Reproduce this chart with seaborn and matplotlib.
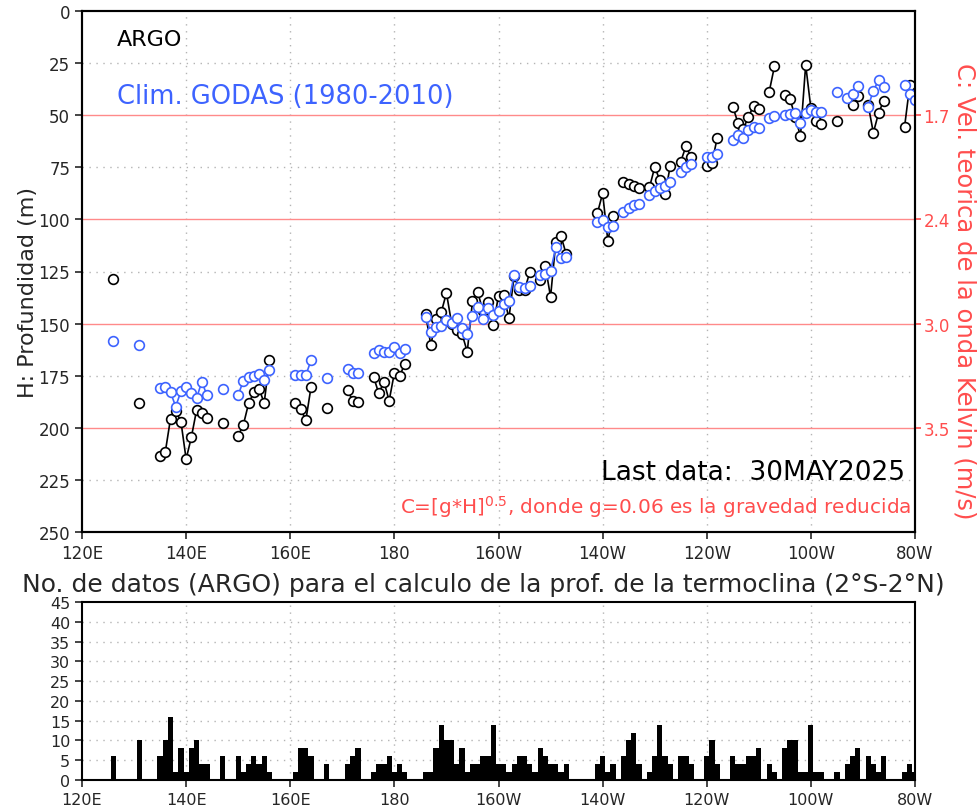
import numpy as np
import pandas as pd
import matplotlib
matplotlib.use("Agg")
import matplotlib.pyplot as plt
import seaborn as sns

# ----------------------------------------------------
# Data
# ----------------------------------------------------
nan = np.nan

# longitudes (deg east) with thermocline depth estimates
lons = [126, 131, 135, 136, 137, 138, 139, 140, 141, 142, 143, 144, 147,
        150, 151, 152, 153, 154, 155, 156, 161, 162, 163, 164, 167, 171,
        172, 173, 176, 177, 178, 179, 180, 181, 182, 186, 187, 188, 189,
        190, 191, 192, 193, 194, 195, 196, 197, 198, 199, 200, 201, 202,
        203, 204, 205, 206, 208, 209, 210, 211, 212, 213, 219, 220, 221,
        222, 224, 225, 226, 227, 229, 230, 231, 232, 233, 235, 236, 237,
        240, 241, 242, 245, 246, 247, 248, 249, 250, 252, 253, 255, 256,
        257, 258, 259, 260, 261, 262, 265, 267, 268, 269, 271, 272, 273,
        274, 278, 279, 280]

argo_depth = [128.6, 188.3, 213.4, 211.6, 195.6, 192, 197, 215, 204.6, 191.6,
              193, 195.5, 197.9, 203.8, 198.5, 188.3, 183, 181.4, 188, 167.5,
              188, 191.1, 196.3, 180.3, 190.7, 182, 187, 187.5, 175.5, 183.5,
              177.9, 187, 173.6, 175.1, 169.5, 145.5, 160.4, 148, 144.6, 135.3,
              150, 153, 155, 163.5, 139.3, 134.7, 144, 139.5, 150.8, 136.6,
              136.3, 147.5, 127, 134, 134, 125.4, 129, 122.5, 137.2, 111,
              108, 116.6, 97, 87.5, 110.2, 98.2, 81.9, 83, 83.8, 85.1,
              84.6, 75, 81.1, 87.8, 74.2, 72.3, 64.9, 70.2, 74.5, 72.9,
              61, 45.9, 53.7, 56.6, 50.9, 45.4, 47, 38.7, 26.6, 40.3,
              42.2, 51, 60.1, 25.8, 46.7, 52.6, 54.4, 52.6, nan, 45.1,
              40.6, 45, 58.4, 49, 43, 55.5, 35.5, nan]

godas_depth = [158.5, 160.3, 181, 180.5, 183, 189.8, 182.5, 180.6, 183.5, 185.9,
               177.9, 184.3, 181.2, 184.3, 177.4, 175.6, 175.3, 174, 176.9, 172.3,
               174.5, 174.5, 174.8, 167.5, 176.1, 172, 173.6, 173.6, 164, 162.5,
               163.8, 163.5, 161.2, 164.3, 162, 146.7, 154.2, 151.8, 151.2, 148.4,
               149.9, 147.5, 152.3, 154.8, 146.5, 141.9, 147.8, 142.7, 145.9, 144,
               140.8, 139.2, 126.7, 132.3, 132.8, 131.8, 126.8, 126.4, 124.9, 113.4,
               118.4, 118.2, 101.4, 100.1, 103.8, 103.4, 96.3, 94.7, 93.1, 92.6,
               88.3, 86.5, 85.1, 83.8, 82.2, 77.4, 75, 73.4, 70.2, 70.2,
               68.6, 61.7, 59.5, 60.8, 56.9, 55.8, 56.1, 51.3, 50.5, 49.9,
               49.3, 49.1, 53.9, 49.1, 47.5, 48.3, 48.6, 39, 41.9, 39.8,
               35.8, 45.9, 38.2, 33.3, 36.6, 35.5, 39.8, 42.6]

# number of ARGO profiles per 1-degree longitude bin
bar_lons = [126, 131, 135, 136, 137, 138, 139, 140, 141, 142, 143, 144, 147,
            150, 151, 152, 153, 154, 155, 156, 161, 162, 163, 164, 167, 171,
            172, 173, 176, 177, 178, 179, 180, 181, 182, 186, 187, 188, 189,
            190, 191, 192, 193, 194, 195, 196, 197, 198, 199, 200, 201, 202,
            203, 204, 205, 206, 207, 208, 209, 210, 211, 212, 213, 219, 220,
            221, 222, 224, 225, 226, 227, 229, 230, 231, 232, 233, 235, 236,
            237, 240, 241, 242, 245, 246, 247, 248, 249, 250, 252, 253, 255,
            256, 257, 258, 259, 260, 261, 262, 265, 267, 268, 269, 271, 272,
            273, 274, 278, 279, 280]
bar_counts = [6, 10, 6, 10, 16, 2, 8, 2, 8, 10, 4, 4, 6,
              6, 2, 4, 6, 4, 6, 2, 2, 8, 8, 6, 4, 4,
              6, 8, 2, 4, 4, 6, 2, 4, 2, 2, 2, 8, 14,
              10, 10, 4, 8, 2, 4, 4, 6, 6, 14, 4, 4, 2,
              4, 6, 6, 4, 2, 8, 6, 4, 4, 2, 4, 4, 6,
              2, 4, 6, 10, 12, 4, 2, 6, 14, 6, 4, 6, 6,
              4, 6, 10, 4, 6, 4, 4, 6, 6, 8, 4, 2, 8,
              10, 10, 2, 2, 14, 2, 2, 2, 4, 6, 8, 6, 4,
              2, 6, 2, 4, 2]

xtick_pos = [120, 140, 160, 180, 200, 220, 240, 260, 280]
xtick_labels = ["120E", "140E", "160E", "180", "160W", "140W", "120W", "100W", "80W"]
depth_ticks = list(range(0, 251, 25))
kelvin_depths = [50, 100, 150, 200]
g_red = 0.06
last_date = "30MAY2025"

BLUE = "#3d63ff"
RED = "#ff4d4d"
RED_LINE = "#ff8a8a"
GRID = "#b4b4b4"


def segments(x, y):
    # split the series into runs of consecutive longitudes (gaps break the line)
    df = pd.DataFrame({"lon": x, "depth": y}).dropna()
    df["seg"] = (df["lon"].diff() != 1).cumsum()
    return df


sns.set_style("white")
plt.rcParams["font.family"] = ["DejaVu Sans"]

fig = plt.figure(figsize=(9.77, 8.12), dpi=100)
ax = fig.add_axes([82 / 977, 1 - 533 / 812, 833 / 977, 521 / 812])
ax2 = fig.add_axes([82 / 977, 1 - 781 / 812, 833 / 977, 178 / 812])

# ----------------------------------------------------
# Top panel: thermocline depth
# ----------------------------------------------------
for xv in xtick_pos[1:-1]:
    ax.axvline(xv, color=GRID, lw=1, ls=(0, (1, 4)), zorder=0)
for yv in depth_ticks[1:-1]:
    if yv in kelvin_depths:
        ax.axhline(yv, color=RED_LINE, lw=1, zorder=0.5)
    else:
        ax.axhline(yv, color=GRID, lw=1, ls=(0, (1, 4)), zorder=0)

argo_df = segments(lons, argo_depth)
godas_df = segments(lons, godas_depth)

sns.lineplot(data=argo_df, x="lon", y="depth", units="seg", estimator=None,
             sort=True, color="black", lw=1.2, marker="o", markersize=7,
             markerfacecolor="white", markeredgecolor="black",
             markeredgewidth=1.2, ax=ax, legend=False, zorder=3)
sns.lineplot(data=godas_df, x="lon", y="depth", units="seg", estimator=None,
             sort=True, color=BLUE, lw=1.2, marker="o", markersize=7,
             markerfacecolor="white", markeredgecolor=BLUE,
             markeredgewidth=1.2, ax=ax, legend=False, zorder=4)

ax.set_xlim(120, 280)
ax.set_ylim(250, 0)
ax.set_xticks(xtick_pos)
ax.set_xticklabels(xtick_labels)
ax.set_yticks(depth_ticks)
ax.set_xlabel("")
ax.set_ylabel("")
ax.tick_params(axis="both", labelsize=12, length=5, width=1.2, direction="out",
               bottom=True, left=True)

ax_r = ax.twinx()
ax_r.set_ylim(250, 0)
ax_r.set_yticks(kelvin_depths)
ax_r.set_yticklabels([f"{np.sqrt(g_red * h):.1f}" for h in kelvin_depths])
ax_r.tick_params(axis="y", colors=RED, labelsize=12, length=4, width=1.2,
                 direction="out", right=True, pad=2)

for a in (ax, ax_r, ax2):
    for s in a.spines.values():
        s.set_linewidth(1.5)
        s.set_color("black")

ax.text(0.042, 0.946, "ARGO", transform=ax.transAxes, fontsize=16,
        ha="left", va="center", color="black")
ax.text(0.042, 0.837, "Clim. GODAS (1980-2010)", transform=ax.transAxes,
        fontsize=18.5, ha="left", va="center", color=BLUE)
ax.text(0.988, 0.115, f"Last data:  {last_date}", transform=ax.transAxes,
        fontsize=19, ha="right", va="center", color="black")
ax.text(0.996, 0.05, r"C=[g*H]$^{0.5}$, donde g=0.06 es la gravedad reducida",
        transform=ax.transAxes, fontsize=14.4, ha="right", va="center", color=RED)

fig.text(28 / 977, 1 - 293 / 812, "H: Profundidad (m)", rotation=90,
         fontsize=16, ha="center", va="center")
fig.text(964 / 977, 1 - 291 / 812, "C: Vel. teorica de la onda Kelvin (m/s)",
         rotation=270, fontsize=17.5, ha="center", va="center", color=RED)

# ----------------------------------------------------
# Bottom panel: number of ARGO profiles
# ----------------------------------------------------
for xv in xtick_pos[1:-1]:
    ax2.axvline(xv, color=GRID, lw=1, ls=(0, (1, 4)), zorder=0)
for yv in range(5, 45, 5):
    ax2.axhline(yv, color=GRID, lw=1, ls=(0, (1, 4)), zorder=0)

sns.histplot(x=bar_lons, weights=bar_counts, discrete=True, color="black",
             alpha=1, linewidth=0, ax=ax2, zorder=2)

ax2.set_xlim(120, 280)
ax2.set_ylim(0, 45)
ax2.set_xticks(xtick_pos)
ax2.set_xticklabels(xtick_labels)
ax2.set_yticks(range(0, 46, 5))
ax2.set_xlabel("")
ax2.set_ylabel("")
ax2.tick_params(axis="both", labelsize=11.5, length=5, width=1.2,
                direction="out", bottom=True, left=True)

fig.text(483 / 977, 1 - 585 / 812,
         "No. de datos (ARGO) para el calculo de la prof. de la termoclina (2°S-2°N)",
         fontsize=18, ha="center", va="center")

fig.savefig("out.png", dpi=100)
